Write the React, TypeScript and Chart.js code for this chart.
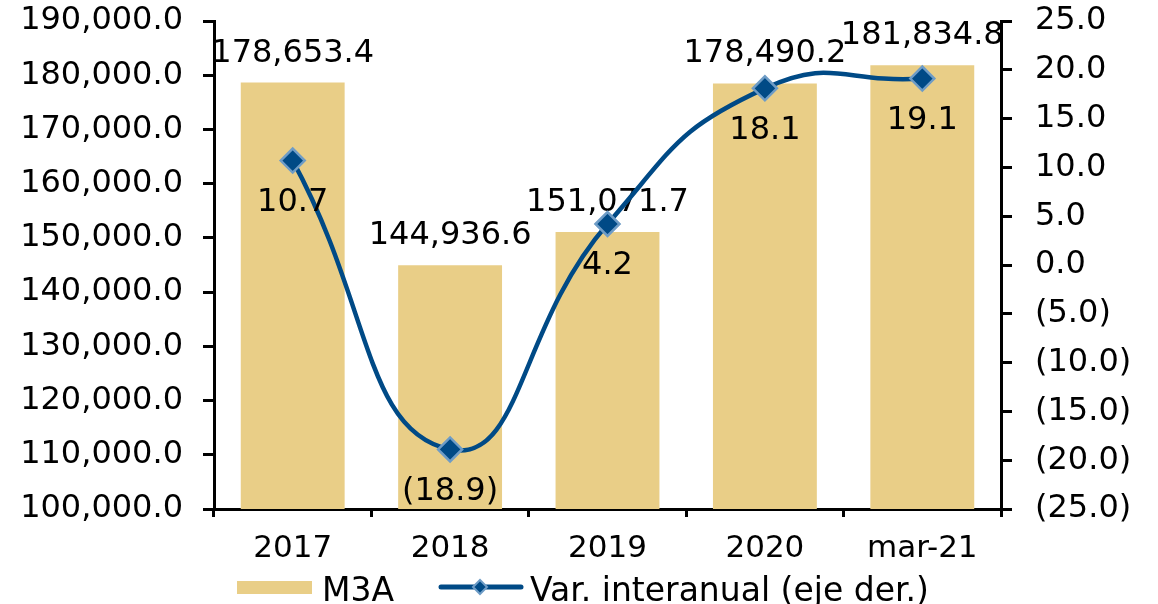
import { useEffect, useRef } from 'react';
import { Chart, registerables } from 'chart.js';

Chart.register(...registerables);

const categories = ['2017', '2018', '2019', '2020', 'mar-21'];
const m3aValues = [178653.4, 144936.6, 151071.7, 178490.2, 181834.8];
const variationValues = [10.7, -18.9, 4.2, 18.1, 19.1];
const seriesNames = ['M3A', 'Var. interanual (eje der.)'];

const FONT = 'DejaVu Sans, Verdana, sans-serif';
const BAR_COLOR = '#E9CE87';
const LINE_COLOR = '#004A86';
const MARKER_BORDER = '#6E9CC6';

function fmt(v: number): string {
  const s = Math.abs(v).toLocaleString('en-US', { minimumFractionDigits: 1, maximumFractionDigits: 1 });
  return v < 0 ? `(${s})` : s;
}

const customPlugin = {
  id: 'customLabelsLegend',
  afterDatasetDraw(chart: any, args: any) {
    const ctx = chart.ctx;
    const meta = args.meta;
    const values = chart.data.datasets[args.index].data as number[];
    ctx.save();
    ctx.font = `32px ${FONT}`;
    ctx.fillStyle = '#000';
    ctx.textAlign = 'center';
    if (meta.type === 'bar') {
      ctx.textBaseline = 'alphabetic';
      meta.data.forEach((el: any, i: number) => {
        ctx.fillText(fmt(values[i]), el.x, el.y - 21);
      });
    } else {
      ctx.textBaseline = 'middle';
      meta.data.forEach((el: any, i: number) => {
        ctx.fillText(fmt(values[i]), el.x, el.y + 42);
      });
    }
    ctx.restore();
  },
  afterDraw(chart: any) {
    const ctx = chart.ctx;
    ctx.save();
    // bar legend item
    ctx.fillStyle = BAR_COLOR;
    ctx.fillRect(237, 581, 75, 13);
    ctx.font = `33px ${FONT}`;
    ctx.fillStyle = '#000';
    ctx.textAlign = 'left';
    ctx.textBaseline = 'alphabetic';
    ctx.fillText(chart.data.datasets[0].label, 322, 601);
    // line legend item
    ctx.strokeStyle = LINE_COLOR;
    ctx.lineWidth = 5;
    ctx.lineCap = 'round';
    ctx.beginPath();
    ctx.moveTo(441, 587);
    ctx.lineTo(521, 587);
    ctx.stroke();
    const cx = 480, cy = 587, r = 7;
    ctx.beginPath();
    ctx.moveTo(cx - r, cy);
    ctx.lineTo(cx, cy - r);
    ctx.lineTo(cx + r, cy);
    ctx.lineTo(cx, cy + r);
    ctx.closePath();
    ctx.fillStyle = LINE_COLOR;
    ctx.fill();
    ctx.lineWidth = 2;
    ctx.strokeStyle = MARKER_BORDER;
    ctx.stroke();
    ctx.fillStyle = '#000';
    ctx.fillText(chart.data.datasets[1].label, 530, 601);
    ctx.restore();
  },
};

export default function App() {
  const canvasRef = useRef<HTMLCanvasElement | null>(null);

  useEffect(() => {
    document.body.style.margin = '0';
    const canvas = canvasRef.current;
    if (!canvas) return;
    const tickFont = { family: FONT, size: 32 };
    const chart = new Chart(canvas, {
      type: 'bar',
      data: {
        labels: categories,
        datasets: [
          {
            type: 'bar',
            label: seriesNames[0],
            data: m3aValues,
            backgroundColor: BAR_COLOR,
            borderWidth: 0,
            barPercentage: 0.66,
            categoryPercentage: 1,
            yAxisID: 'y',
            order: 2,
          },
          {
            type: 'line',
            label: seriesNames[1],
            data: variationValues,
            borderColor: LINE_COLOR,
            borderWidth: 4.5,
            tension: 0.5,
            pointStyle: 'rectRot',
            pointRadius: 12,
            pointBackgroundColor: LINE_COLOR,
            pointBorderColor: MARKER_BORDER,
            pointBorderWidth: 2.5,
            yAxisID: 'y1',
            order: 1,
          } as any,
        ],
      },
      options: {
        animation: false,
        responsive: true,
        maintainAspectRatio: false,
        layout: { padding: { top: 21, left: 0, right: 0, bottom: 0 } },
        plugins: {
          legend: { display: false },
          tooltip: { enabled: false },
        },
        scales: {
          x: {
            grid: {
              display: true,
              drawOnChartArea: false,
              drawTicks: true,
              tickLength: 8,
              color: '#000',
              lineWidth: 3,
              offset: true,
            },
            border: { color: '#000', width: 3 },
            ticks: { font: { family: FONT, size: 31 }, color: '#000', padding: 13 },
            afterFit: (s: any) => {
              s.height = 95;
              s.paddingLeft = 0;
              s.paddingRight = 0;
            },
          },
          y: {
            position: 'left',
            min: 100000,
            max: 190000,
            ticks: {
              stepSize: 10000,
              font: tickFont,
              color: '#000',
              padding: 20,
              callback: (v: any) => fmt(Number(v)),
            },
            grid: {
              drawOnChartArea: false,
              drawTicks: true,
              tickLength: 11,
              color: '#000',
              lineWidth: 3,
            },
            border: { color: '#000', width: 3 },
            afterFit: (s: any) => {
              s.width = 214;
              s.paddingTop = 0;
              s.paddingBottom = 0;
            },
          },
          y1: {
            position: 'right',
            min: -25,
            max: 25,
            ticks: {
              stepSize: 5,
              font: tickFont,
              color: '#000',
              padding: 23,
              callback: (v: any) => fmt(Number(v)),
            },
            grid: {
              drawOnChartArea: false,
              drawTicks: true,
              tickLength: 11,
              color: '#000',
              lineWidth: 3,
            },
            border: { color: '#000', width: 3 },
            afterFit: (s: any) => {
              s.width = 157;
              s.paddingTop = 0;
              s.paddingBottom = 0;
            },
          },
        },
      },
      plugins: [customPlugin],
    });
    return () => chart.destroy();
  }, []);

  return (
    <div style={{ width: 1158, height: 604, position: 'relative' }}>
      <canvas ref={canvasRef} />
    </div>
  );
}
